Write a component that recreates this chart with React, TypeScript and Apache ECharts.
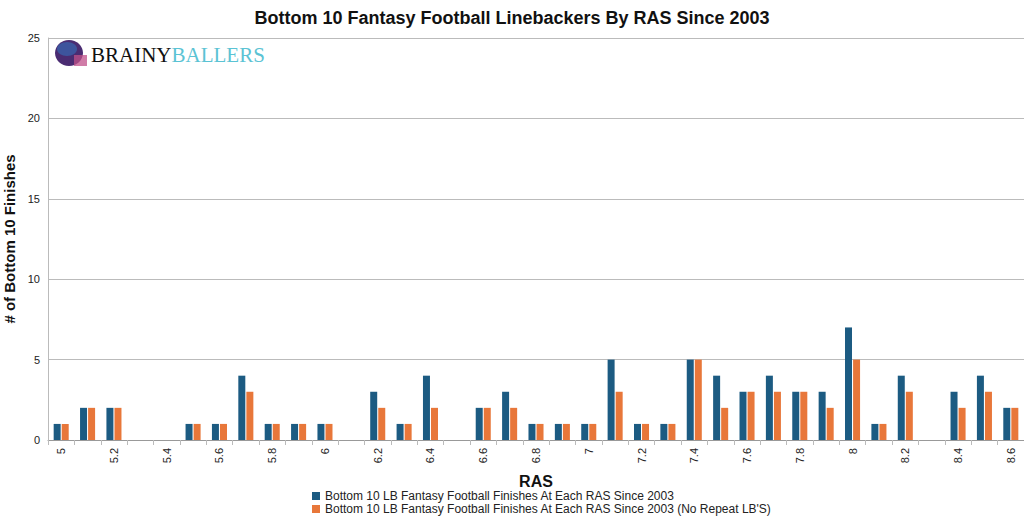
import React, { useEffect, useRef } from "react";
import * as echarts from "echarts";

const categories = ["5","5.1","5.2","5.3","5.4","5.5","5.6","5.7","5.8","5.9","6","6.1","6.2","6.3","6.4","6.5","6.6","6.7","6.8","6.9","7","7.1","7.2","7.3","7.4","7.5","7.6","7.7","7.8","7.9","8","8.1","8.2","8.3","8.4","8.5","8.6"];
const allFinishes = [1,2,2,0,0,1,1,4,1,1,1,0,3,1,4,0,2,3,1,1,1,5,1,1,5,4,3,4,3,3,7,1,4,0,3,4,2];
const noRepeat = [1,2,2,0,0,1,1,3,1,1,1,0,2,1,2,0,2,2,1,1,1,3,1,1,5,2,3,3,3,2,5,1,3,0,2,3,2];
const seriesNames = [
  "Bottom 10 LB Fantasy Football Finishes At Each RAS Since 2003",
  "Bottom 10 LB Fantasy Football Finishes At Each RAS Since 2003 (No Repeat LB'S)",
];
const yTicks = { min: 0, max: 25, interval: 5 };

export default function App() {
  const ref = useRef<HTMLDivElement>(null);
  useEffect(() => {
    const chart = echarts.init(ref.current!, null, { renderer: "svg" });
    const font = "'Liberation Sans', Arial, sans-serif";
    chart.setOption({
      animation: false,
      textStyle: { fontFamily: font },
      title: {
        text: "Bottom 10 Fantasy Football Linebackers By RAS Since 2003",
        left: "center",
        top: 4,
        textStyle: { fontSize: 18, fontWeight: "bold", color: "#111", fontFamily: font },
      },
      grid: { left: 48, right: 0, top: 38, bottom: 77, outerBoundsMode: "none", containLabel: false },
      legend: {
        orient: "vertical",
        left: 312,
        top: 490,
        height: 28,
        itemWidth: 8,
        itemHeight: 8,
        itemGap: 1,
        padding: 0,
        icon: "rect",
        textStyle: { fontSize: 12, color: "#222", fontFamily: font },
        data: seriesNames,
      },
      xAxis: {
        type: "category",
        data: categories,
        name: "RAS",
        nameLocation: "middle",
        nameGap: 33,
        nameTextStyle: { fontSize: 16, fontWeight: "bold", color: "#111" },
        axisLine: { lineStyle: { color: "#999" } },
        axisTick: { show: true, interval: 0, lineStyle: { color: "#bbb" } },
        axisLabel: {
          interval: 1,
          rotate: 90,
          fontSize: 11,
          color: "#222",
          margin: 8,
        },
      },
      yAxis: {
        type: "value",
        ...yTicks,
        name: "# of Bottom 10 Finishes",
        nameLocation: "middle",
        nameGap: 31,
        nameTextStyle: { fontSize: 15, fontWeight: "bold", color: "#111" },
        axisLine: { show: true, lineStyle: { color: "#bbb" } },
        axisLabel: { fontSize: 11, color: "#222", margin: 8 },
        splitLine: { lineStyle: { color: "#bbb" } },
      },
      series: [
        {
          name: seriesNames[0],
          type: "bar",
          data: allFinishes,
          barWidth: 7,
          barGap: "15%",
          itemStyle: { color: "#1c5b82" },
        },
        {
          name: seriesNames[1],
          type: "bar",
          data: noRepeat,
          barWidth: 7,
          itemStyle: { color: "#e8773a" },
        },
      ],
      graphic: [
        {
          type: "group",
          left: 55,
          top: 40,
          children: [
            { type: "ellipse", shape: { cx: 15, cy: 14, rx: 14, ry: 13 }, style: { fill: "#4a2c72" } },
            { type: "ellipse", shape: { cx: 13, cy: 10, rx: 10, ry: 7 }, style: { fill: "#3a5fa8", opacity: 0.8 } },
            { type: "rect", shape: { x: 20, y: 16, width: 13, height: 11 }, style: { fill: "#c0508a", opacity: 0.75 } },
            {
              type: "text",
              x: 37,
              y: 5,
              style: {
                text: "{a|BRAINY}{b|BALLERS}",
                rich: {
                  a: { fontFamily: "'Liberation Serif', 'DejaVu Serif', serif", fontSize: 21, fill: "#111" },
                  b: { fontFamily: "'Liberation Serif', 'DejaVu Serif', serif", fontSize: 21, fill: "#5bc3d4" },
                },
              },
            },
          ],
        },
      ],
    });
    return () => chart.dispose();
  }, []);
  return <div ref={ref} style={{ width: 1024, height: 517, position: "absolute", left: 0, top: 0 }} />;
}
